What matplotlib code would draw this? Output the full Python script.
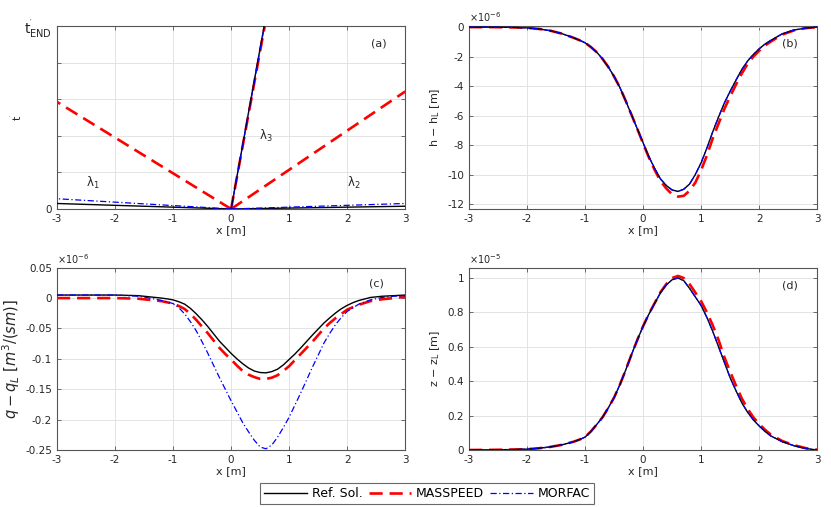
import numpy as np
import matplotlib
matplotlib.use("Agg")
import matplotlib.pyplot as plt
from matplotlib.ticker import FuncFormatter

plt.rcParams['font.family'] = ['DejaVu Sans']
plt.rcParams['axes.unicode_minus'] = False

# shared x positions for the profiles [m]
x = [-3, -2.6, -2.2, -2, -1.8, -1.6, -1.4, -1.2, -1.1, -1, -0.9, -0.8, -0.7, -0.6,
     -0.5, -0.4, -0.3, -0.2, -0.1, 0, 0.1, 0.2, 0.3, 0.4, 0.5, 0.6, 0.7, 0.8, 0.9,
     1.0, 1.1, 1.2, 1.3, 1.4, 1.5, 1.6, 1.7, 1.8, 1.9, 2.0, 2.1, 2.2, 2.4, 2.6,
     2.8, 3.0]

# (b) h - h_L  [x1e-6 m]
h_ref = [0, 0, -0.02, -0.05, -0.12, -0.24, -0.44, -0.72, -0.88, -1.06, -1.35, -1.7,
         -2.15, -2.7, -3.35, -4.1, -5.0, -5.95, -6.9, -7.85, -8.8, -9.6, -10.3,
         -10.75, -11.05, -11.15, -11.0, -10.65, -10.0, -9.2, -8.2, -7.1, -6.1,
         -5.15, -4.35, -3.6, -2.88, -2.3, -1.85, -1.47, -1.15, -0.9, -0.45, -0.2,
         -0.06, 0]
h_mass = [0, 0, -0.02, -0.05, -0.12, -0.24, -0.44, -0.72, -0.88, -1.06, -1.35, -1.7,
          -2.15, -2.7, -3.35, -4.1, -5.0, -5.95, -6.9, -7.9, -8.85, -9.7, -10.45,
          -10.95, -11.35, -11.5, -11.45, -11.1, -10.55, -9.7, -8.7, -7.55, -6.55,
          -5.55, -4.7, -3.9, -3.15, -2.5, -2.0, -1.6, -1.25, -0.98, -0.5, -0.22,
          -0.07, 0]
h_morf = [0, 0, -0.02, -0.05, -0.12, -0.24, -0.44, -0.72, -0.88, -1.06, -1.35, -1.7,
          -2.15, -2.7, -3.35, -4.1, -5.0, -5.95, -6.9, -7.85, -8.8, -9.6, -10.3,
          -10.75, -11.05, -11.15, -11.0, -10.65, -10.0, -9.2, -8.2, -7.1, -6.1,
          -5.15, -4.35, -3.6, -2.88, -2.3, -1.85, -1.47, -1.15, -0.9, -0.45, -0.2,
          -0.06, 0]

# (c) q - q_L  [x1e-6 m3/(sm)]
q_ref = [0.005, 0.005, 0.005, 0.005, 0.0045, 0.004, 0.002, 0.0, -0.0013, -0.003,
         -0.006, -0.01, -0.017, -0.026, -0.036, -0.047, -0.059, -0.071, -0.081,
         -0.091, -0.1, -0.108, -0.115, -0.12, -0.1225, -0.123, -0.121, -0.117,
         -0.11, -0.101, -0.092, -0.082, -0.0715, -0.061, -0.051, -0.041, -0.0325,
         -0.0245, -0.0175, -0.012, -0.0075, -0.004, 0.001, 0.003, 0.004, 0.005]
q_mass = [0, 0, 0, 0, -0.0005, -0.001, -0.003, -0.005, -0.007, -0.009, -0.013,
          -0.018, -0.026, -0.036, -0.047, -0.058, -0.07, -0.082, -0.092, -0.101,
          -0.111, -0.12, -0.126, -0.13, -0.133, -0.133, -0.131, -0.127, -0.12,
          -0.112, -0.102, -0.092, -0.082, -0.072, -0.061, -0.05, -0.041, -0.033,
          -0.026, -0.019, -0.015, -0.011, -0.005, -0.002, 0.0, 0.002]
q_morf = [0.005, 0.005, 0.005, 0.005, 0.004, 0.003, 0.0, -0.004, -0.0065, -0.009,
          -0.016, -0.026, -0.039, -0.054, -0.072, -0.091, -0.111, -0.131, -0.15,
          -0.169, -0.187, -0.205, -0.22, -0.234, -0.245, -0.248, -0.242, -0.229,
          -0.213, -0.196, -0.176, -0.156, -0.135, -0.114, -0.094, -0.074, -0.058,
          -0.0435, -0.032, -0.022, -0.016, -0.01, -0.003, 0.001, 0.003, 0.004]

# (d) z - z_L  [x1e-5 m]
z_ref = [0, 0.001, 0.003, 0.005, 0.01, 0.018, 0.03, 0.048, 0.06, 0.075, 0.108,
         0.148, 0.19, 0.245, 0.305, 0.38, 0.465, 0.555, 0.64, 0.72, 0.79, 0.853,
         0.915, 0.96, 0.99, 1.0, 0.985, 0.94, 0.89, 0.84, 0.77, 0.69, 0.6, 0.51,
         0.42, 0.345, 0.275, 0.22, 0.175, 0.14, 0.108, 0.082, 0.048, 0.025, 0.009, 0]
z_mass = [0, 0.001, 0.003, 0.005, 0.01, 0.018, 0.03, 0.048, 0.06, 0.075, 0.108,
          0.148, 0.19, 0.245, 0.305, 0.38, 0.465, 0.555, 0.64, 0.72, 0.792, 0.855,
          0.918, 0.965, 1.0, 1.012, 1.0, 0.965, 0.915, 0.865, 0.8, 0.725, 0.64,
          0.54, 0.455, 0.375, 0.3, 0.24, 0.19, 0.152, 0.118, 0.09, 0.052, 0.028,
          0.011, 0.002]
z_morf = [0, 0.001, 0.003, 0.005, 0.01, 0.018, 0.03, 0.048, 0.06, 0.075, 0.108,
          0.148, 0.19, 0.245, 0.305, 0.38, 0.465, 0.555, 0.64, 0.72, 0.79, 0.853,
          0.915, 0.96, 0.99, 1.0, 0.985, 0.94, 0.89, 0.84, 0.77, 0.69, 0.6, 0.51,
          0.42, 0.345, 0.275, 0.22, 0.175, 0.14, 0.108, 0.082, 0.048, 0.025, 0.009, 0]

# (a) characteristics: end points (x, t'/t'_END) of lines starting at the origin
lam1_ref = (-3, 0.03)
lam1_mass = (-3, 0.585)
lam1_morf = (-3, 0.056)
lam2_ref = (3, 0.015)
lam2_mass = (3, 0.642)
lam2_morf = (3, 0.03)
lam3_ref = (0.57, 1.0)
lam3_mass = (0.58, 1.0)
lam3_morf = (0.575, 1.0)

c_ref = 'black'
c_mass = 'red'
c_morf = 'blue'
spine_c = '#555555'
txt_c = '#262626'
fs = 7.5


def style(ax):
    ax.grid(True, color='#e3e3e3', lw=0.7)
    ax.set_axisbelow(True)
    for s in ax.spines.values():
        s.set_color(spine_c)
        s.set_linewidth(0.8)
    ax.tick_params(direction='in', length=3, width=0.6, colors=spine_c,
                   labelcolor=txt_c, labelsize=fs, top=True, right=True)
    ax.set_xlim(-3, 3)
    ax.set_xticks(range(-3, 4))
    ax.set_xlabel('x [m]', fontsize=8, color=txt_c, labelpad=1)
    ax.yaxis.set_major_formatter(FuncFormatter(lambda v, p: '%g' % round(v, 6)))


def draw(ax, yr, ym, yf):
    ax.plot(x, yr, color=c_ref, lw=1.0, zorder=3)
    ax.plot(x, ym, color=c_mass, lw=1.9, dashes=(5, 2.6), zorder=2)
    ax.plot(x, yf, color=c_morf, lw=0.9, dashes=(5, 2, 1, 2), zorder=4)


fig = plt.figure(figsize=(8.31, 5.07), dpi=100)

w = 0.419
h = 0.361
ax_a = fig.add_axes([0.0686, 0.5878, w, h])
ax_b = fig.add_axes([0.5644, 0.5878, w, h])
ax_c = fig.add_axes([0.0686, 0.1124, w, 0.3596])
ax_d = fig.add_axes([0.5644, 0.1124, w, 0.3596])

# (a)
style(ax_a)
for (e_r, e_m, e_f) in [(lam1_ref, lam1_mass, lam1_morf),
                        (lam2_ref, lam2_mass, lam2_morf),
                        (lam3_ref, lam3_mass, lam3_morf)]:
    ax_a.plot([0, e_m[0]], [0, e_m[1]], color=c_mass, lw=1.9, dashes=(5, 2.6), zorder=2)
    ax_a.plot([0, e_r[0]], [0, e_r[1]], color=c_ref, lw=1.0, zorder=3)
    ax_a.plot([0, e_f[0]], [0, e_f[1]], color=c_morf, lw=0.9, dashes=(5, 2, 1, 2), zorder=4)
ax_a.set_ylim(0, 1)
ax_a.set_yticks([0, 0.2, 0.4, 0.6, 0.8, 1.0])
ax_a.set_yticklabels(['0', '', '', '', '', r"$\mathregular{t^{'}_{END}}$"])
ax_a.get_yticklabels()[-1].set_fontsize(10)
ax_a.set_ylabel(r"$\mathregular{t^{'}}$", fontsize=8, color=txt_c)
ax_a.yaxis.set_label_coords(-0.095, 0.5)
ax_a.text(-2.38, 0.14, r'$\mathregular{\lambda_1}$', fontsize=8.5, color=txt_c, ha='center', va='center')
ax_a.text(2.11, 0.14, r'$\mathregular{\lambda_2}$', fontsize=8.5, color=txt_c, ha='center', va='center')
ax_a.text(0.6, 0.4, r'$\mathregular{\lambda_3}$', fontsize=8.5, color=txt_c, ha='center', va='center')
ax_a.text(0.948, 0.905, '(a)', transform=ax_a.transAxes, fontsize=8, color=txt_c, ha='right', va='center')

# (b)
style(ax_b)
draw(ax_b, h_ref, h_mass, h_morf)
ax_b.set_ylim(-12.34, 0.08)
ax_b.set_yticks(range(-12, 1, 2))
ax_b.set_ylabel(r'h $-$ h$\mathregular{_L}$ [m]', fontsize=8, color=txt_c)
ax_b.text(0.0, 1.012, r'$\times\mathregular{10^{-6}}$', transform=ax_b.transAxes, fontsize=7, color=txt_c, ha='left', va='bottom')
ax_b.text(0.945, 0.905, '(b)', transform=ax_b.transAxes, fontsize=8, color=txt_c, ha='right', va='center')

# (c)
style(ax_c)
draw(ax_c, q_ref, q_mass, q_morf)
ax_c.set_ylim(-0.25, 0.05)
ax_c.set_yticks([-0.25, -0.2, -0.15, -0.1, -0.05, 0, 0.05])
ax_c.set_ylabel(r'$q - q_L\ [m^3/(sm)]$', fontsize=10.5, color=txt_c, labelpad=2)
ax_c.text(0.0, 1.012, r'$\times\mathregular{10^{-6}}$', transform=ax_c.transAxes, fontsize=7, color=txt_c, ha='left', va='bottom')
ax_c.text(0.94, 0.915, '(c)', transform=ax_c.transAxes, fontsize=8, color=txt_c, ha='right', va='center')

# (d)
style(ax_d)
draw(ax_d, z_ref, z_mass, z_morf)
ax_d.set_ylim(0, 1.06)
ax_d.set_yticks([0, 0.2, 0.4, 0.6, 0.8, 1.0])
ax_d.set_ylabel(r'z $-$ z$\mathregular{_L}$ [m]', fontsize=8, color=txt_c)
ax_d.text(0.0, 1.012, r'$\times\mathregular{10^{-5}}$', transform=ax_d.transAxes, fontsize=7, color=txt_c, ha='left', va='bottom')
ax_d.text(0.945, 0.9, '(d)', transform=ax_d.transAxes, fontsize=8, color=txt_c, ha='right', va='center')

# legend
h1, = ax_d.plot([], [], color=c_ref, lw=1.0)
h2, = ax_d.plot([], [], color=c_mass, lw=1.9, dashes=(5, 2.6))
h3, = ax_d.plot([], [], color=c_morf, lw=0.9, dashes=(5, 2, 1, 2))
leg = fig.legend([h1, h2, h3], ['Ref. Sol.', 'MASSPEED', 'MORFAC'], ncol=3,
                 loc='center', bbox_to_anchor=(0.514, 0.0265), fontsize=9,
                 frameon=True, fancybox=False, edgecolor='#444444',
                 handlelength=3.4, handletextpad=0.4, columnspacing=0.5,
                 borderpad=0.3, borderaxespad=0)
leg.get_frame().set_linewidth(0.8)

plt.savefig('out.png', dpi=100)
